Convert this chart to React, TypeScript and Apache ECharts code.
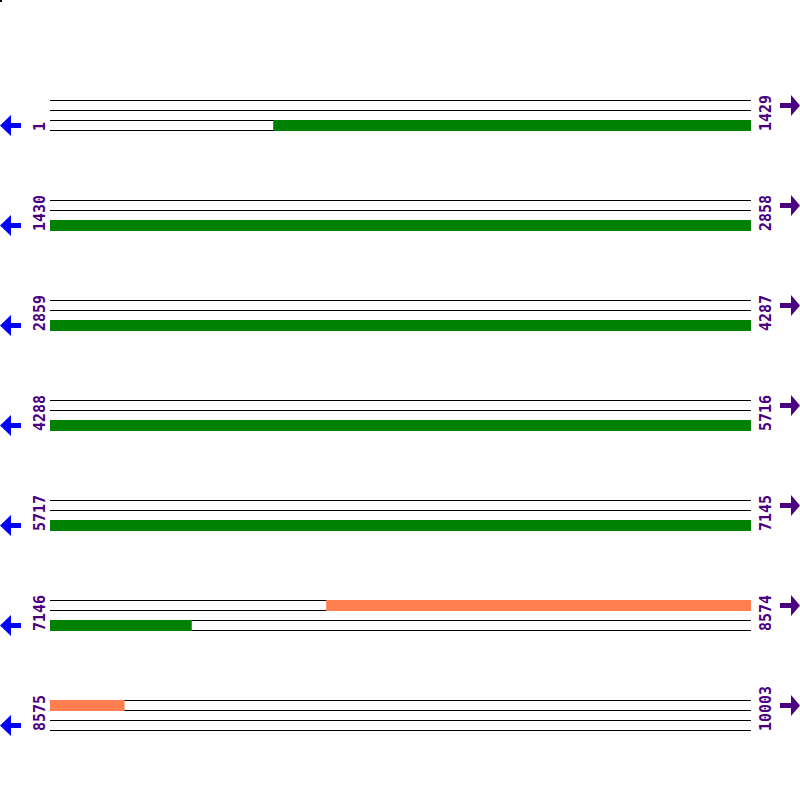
import React, { useEffect, useRef } from "react";
import * as echarts from "echarts";

// Sequence map: 10003 bases wrapped over 7 rows of 1429 bases
const ROW_LENGTH = 1429;
const rowStarts = [1, 1430, 2859, 4288, 5717, 7146, 8575];
const rowEnds = [1429, 2858, 4287, 5716, 7145, 8574, 10003];
const trackLines = [0, 1, 2, 3];

// Features (start, end in bases, band index between track lines)
const featureNames = ["ORF 1", "ORF 2"];
const featureStarts = [456, 7709];
const featureEnds = [7434, 8726];
const featureBands = [2, 0];
const featureColors = ["#008000", "#FF7F50"];

const LABEL_COLOR = "#4B0082";
const LEFT_ARROW_COLOR = "#0000FF";
const RIGHT_ARROW_COLOR = "#4B0082";

// y value of track line t in row r (each row spans 10 units)
const lineY = (r: number, t: number) => 10 + 10 * r + t;

export default function App() {
  const ref = useRef<HTMLDivElement>(null);
  useEffect(() => {
    if (!ref.current) return;
    const chart = echarts.init(ref.current, null, { renderer: "svg" });

    const lineData: number[][] = [];
    rowStarts.forEach((_, r) => {
      trackLines.forEach((t) => lineData.push([0, ROW_LENGTH, lineY(r, t)]));
    });

    const segData: (number | string)[][] = [];
    featureStarts.forEach((fs, i) => {
      const fe = featureEnds[i];
      rowStarts.forEach((s, r) => {
        const e = rowEnds[r];
        const a = Math.max(fs, s);
        const b = Math.min(fe, e);
        if (a <= b) {
          segData.push([a - s, b - s + 1, lineY(r, featureBands[i]), i]);
        }
      });
    });

    const labelData: (number | string)[][] = [];
    rowStarts.forEach((s, r) => {
      labelData.push([0, lineY(r, 3), String(s), 0]);
      labelData.push([ROW_LENGTH, lineY(r, 3), String(rowEnds[r]), 1]);
    });

    const arrowData: number[][] = [];
    rowStarts.forEach((_, r) => {
      arrowData.push([0, lineY(r, 2) + 0.55, 0]);
      arrowData.push([ROW_LENGTH, lineY(r, 0) + 0.55, 1]);
    });

    chart.setOption({
      animation: false,
      grid: { left: 50, top: 0, width: 701, height: 800 },
      xAxis: { type: "value", min: 0, max: ROW_LENGTH, show: false },
      yAxis: { type: "value", min: 0, max: 80, inverse: true, show: false },
      graphic: [
        { type: "rect", left: 0, top: 0, shape: { x: 0, y: 0, width: 2, height: 2 }, style: { fill: "#000" } },
      ],
      series: [
        {
          type: "custom",
          name: "tracks",
          data: lineData,
          silent: true,
          renderItem: (params: any, api: any) => {
            const p0 = api.coord([api.value(0), api.value(2)]);
            const p1 = api.coord([api.value(1), api.value(2)]);
            const y = Math.round(p0[1]) + 0.5;
            return {
              type: "line",
              shape: { x1: p0[0], y1: y, x2: p1[0], y2: y },
              style: { stroke: "#000", lineWidth: 1 },
            };
          },
        },
        {
          type: "custom",
          name: "features",
          data: segData,
          silent: true,
          renderItem: (params: any, api: any) => {
            const p0 = api.coord([api.value(0), api.value(2)]);
            const p1 = api.coord([api.value(1), api.value(2) + 1]);
            const y0 = Math.round(p0[1]);
            const y1 = Math.round(p1[1]) + 1;
            return {
              type: "rect",
              shape: { x: p0[0], y: y0, width: p1[0] - p0[0], height: y1 - y0 },
              style: { fill: featureColors[api.value(3)] },
            };
          },
        },
        {
          type: "custom",
          name: "labels",
          data: labelData,
          silent: true,
          renderItem: (params: any, api: any) => {
            const side = api.value(3);
            const p = api.coord([api.value(0), api.value(1)]);
            const x = side === 0 ? p[0] - 10 : p[0] + 15;
            return {
              type: "text",
              x,
              y: p[1] + 1,
              rotation: Math.PI / 2,
              style: {
                text: String(api.value(2)),
                fill: LABEL_COLOR,
                font: "bold 15px 'DejaVu Sans Mono', monospace",
                align: "left",
                verticalAlign: "middle",
              },
            };
          },
        },
        {
          type: "custom",
          name: "arrows",
          data: arrowData,
          silent: true,
          renderItem: (params: any, api: any) => {
            const side = api.value(2);
            const p = api.coord([api.value(0), api.value(1)]);
            const c = p[1];
            let pts: number[][];
            if (side === 0) {
              const tip = p[0] - 50;
              pts = [
                [tip, c],
                [tip + 11, c - 10.5],
                [tip + 11, c - 2.5],
                [tip + 21, c - 2.5],
                [tip + 21, c + 2.5],
                [tip + 11, c + 2.5],
                [tip + 11, c + 10.5],
              ];
            } else {
              const tip = p[0] + 49;
              pts = [
                [tip, c],
                [tip - 9, c - 10.5],
                [tip - 9, c - 2.5],
                [tip - 20, c - 2.5],
                [tip - 20, c + 2.5],
                [tip - 9, c + 2.5],
                [tip - 9, c + 10.5],
              ];
            }
            return {
              type: "polygon",
              shape: { points: pts },
              style: { fill: side === 0 ? LEFT_ARROW_COLOR : RIGHT_ARROW_COLOR },
            };
          },
        },
      ],
    });
    return () => chart.dispose();
  }, []);
  return (
    <div
      ref={ref}
      style={{ position: "fixed", left: 0, top: 0, width: 800, height: 800, background: "#fff" }}
    />
  );
}
